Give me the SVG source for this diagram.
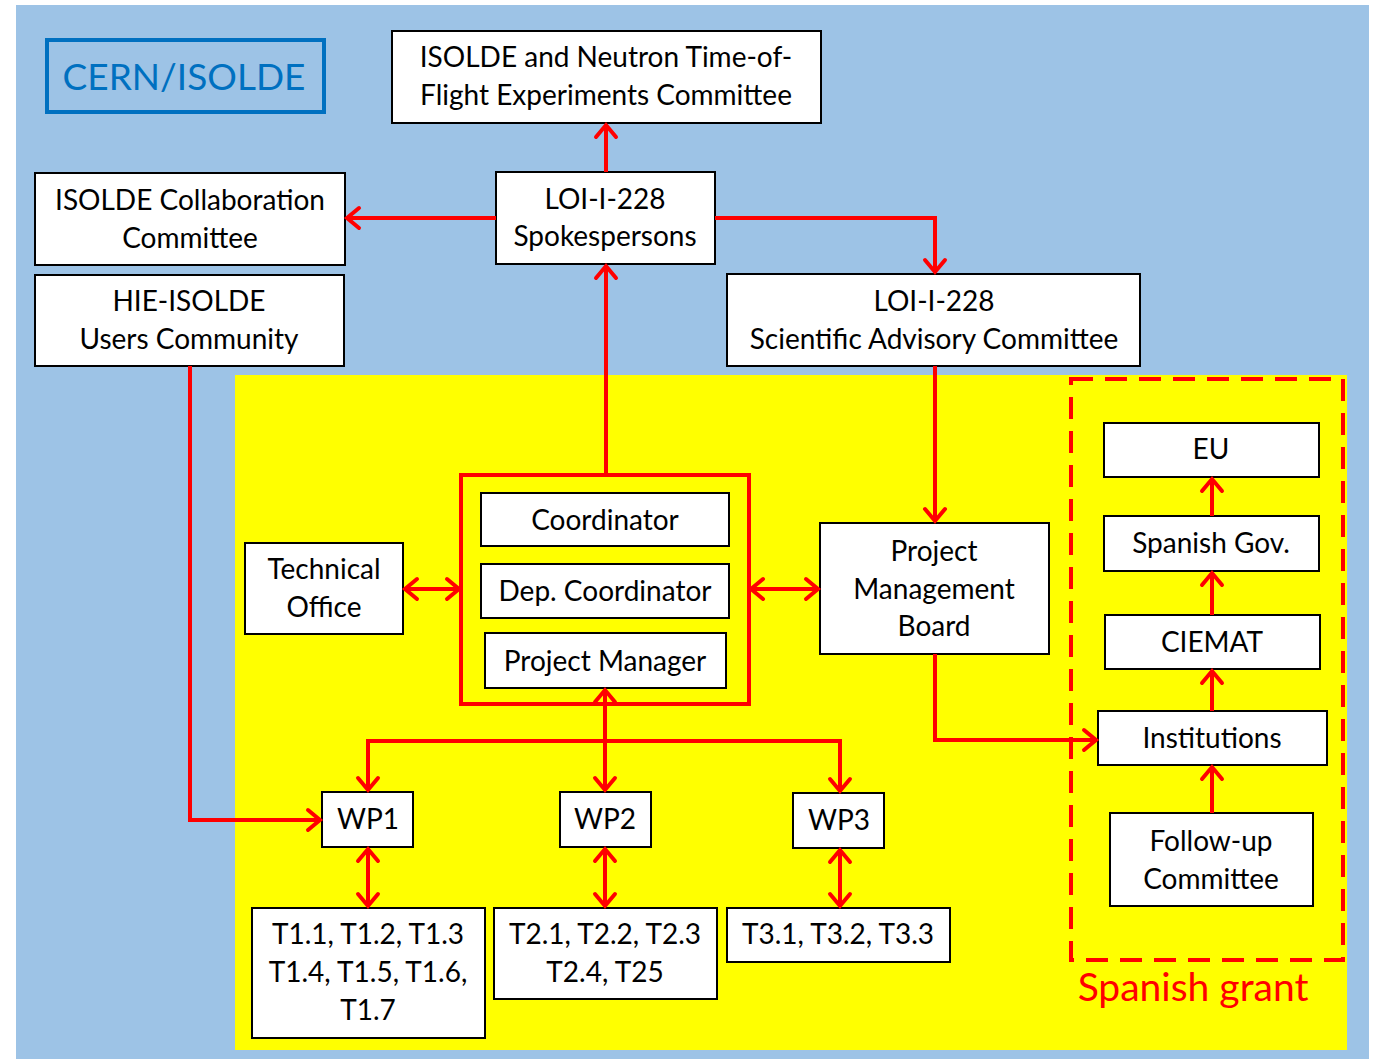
<svg xmlns="http://www.w3.org/2000/svg" width="1377" height="1059" viewBox="0 0 1377 1059">
<defs>
<style>
.box{fill:#fff;stroke:#000;stroke-width:2}
.t{font-family:Lato,"Open Sans","Liberation Sans",sans-serif;font-size:28px;fill:#000;text-anchor:middle}
.c{fill:none;stroke:#ff0000;stroke-width:4;stroke-linejoin:miter}
</style>
<marker id="ah" markerUnits="userSpaceOnUse" viewBox="0 0 16 24" markerWidth="16" markerHeight="24" refX="14" refY="12" orient="auto-start-reverse" overflow="visible">
<path d="M2,2 L14,12 L2,22" fill="none" stroke="#ff0000" stroke-width="4" stroke-linecap="round" stroke-linejoin="miter"/>
</marker>
</defs>
<rect x="16" y="5" width="1353" height="1054" fill="#9dc3e6"/>
<rect x="235" y="375" width="1112" height="675" fill="#ffff00"/>

<g id="cern">
<rect x="47" y="40" width="277" height="72" fill="none" stroke="#0070c0" stroke-width="4"/>
<text x="184" y="90" class="t" style="font-size:37px;fill:#0070c0">CERN/ISOLDE</text>
</g>

<g id="neutron">
<rect class="box" x="392" y="31" width="429" height="92"/>
<text class="t" x="606" y="67">ISOLDE and Neutron Time-of-</text>
<text class="t" x="606" y="105">Flight Experiments Committee</text>
</g>
<g id="spokespersons">
<rect class="box" x="496" y="172" width="219" height="92"/>
<text class="t" x="605" y="209">LOI-I-228</text>
<text class="t" x="605" y="246">Spokespersons</text>
</g>
<g id="collab">
<rect class="box" x="35" y="173" width="310" height="92"/>
<text class="t" x="190" y="210">ISOLDE Collaboration</text>
<text class="t" x="190" y="248">Committee</text>
</g>
<g id="hie">
<rect class="box" x="35" y="275" width="309" height="91"/>
<text class="t" x="189" y="311">HIE-ISOLDE</text>
<text class="t" x="189" y="349">Users Community</text>
</g>
<g id="sac">
<rect class="box" x="727" y="274" width="413" height="92"/>
<text class="t" x="934" y="311">LOI-I-228</text>
<text class="t" x="934" y="349">Scientific Advisory Committee</text>
</g>

<g id="grant">
<rect x="1071" y="379" width="272" height="581" fill="none" stroke="#ff0000" stroke-width="4" stroke-dasharray="22 12"/>
<text x="1193" y="1001" class="t" style="font-size:39px;fill:#ff0000">Spanish grant</text>
</g>
<g id="eu">
<rect class="box" x="1104" y="423" width="215" height="54"/>
<text class="t" x="1211" y="459">EU</text>
</g>
<g id="spgov">
<rect class="box" x="1104" y="516" width="215" height="55"/>
<text class="t" x="1211" y="553">Spanish Gov.</text>
</g>
<g id="ciemat">
<rect class="box" x="1105" y="615" width="215" height="54"/>
<text class="t" x="1212" y="652">CIEMAT</text>
</g>
<g id="institutions">
<rect class="box" x="1098" y="711" width="229" height="54"/>
<text class="t" x="1212" y="748">Institutions</text>
</g>
<g id="followup">
<rect class="box" x="1110" y="813" width="203" height="93"/>
<text class="t" x="1211" y="851">Follow-up</text>
<text class="t" x="1211" y="889">Committee</text>
</g>

<g id="management">
<rect x="461" y="475" width="288" height="229" fill="none" stroke="#ff0000" stroke-width="4"/>
</g>
<g id="coordinator">
<rect class="box" x="481" y="493" width="248" height="53"/>
<text class="t" x="605" y="530">Coordinator</text>
</g>
<g id="depcoord">
<rect class="box" x="481" y="564" width="248" height="54"/>
<text class="t" x="605" y="601">Dep. Coordinator</text>
</g>
<g id="pm">
<rect class="box" x="485" y="633" width="241" height="55"/>
<text class="t" x="605" y="671">Project Manager</text>
</g>
<g id="techoffice">
<rect class="box" x="245" y="543" width="158" height="91"/>
<text class="t" x="324" y="579">Technical</text>
<text class="t" x="324" y="617">Office</text>
</g>
<g id="pmb">
<rect class="box" x="820" y="523" width="229" height="131"/>
<text class="t" x="934" y="561">Project</text>
<text class="t" x="934" y="599">Management</text>
<text class="t" x="934" y="636">Board</text>
</g>

<g id="wp1">
<rect class="box" x="322" y="792" width="91" height="55"/>
<text class="t" x="368" y="829">WP1</text>
</g>
<g id="wp2">
<rect class="box" x="560" y="792" width="91" height="55"/>
<text class="t" x="605" y="829">WP2</text>
</g>
<g id="wp3">
<rect class="box" x="793" y="793" width="91" height="55"/>
<text class="t" x="839" y="830">WP3</text>
</g>
<g id="t1">
<rect class="box" x="252" y="908" width="233" height="130"/>
<text class="t" x="368" y="944">T1.1, T1.2, T1.3</text>
<text class="t" x="368" y="982">T1.4, T1.5, T1.6,</text>
<text class="t" x="368" y="1020">T1.7</text>
</g>
<g id="t2">
<rect class="box" x="494" y="908" width="223" height="91"/>
<text class="t" x="605" y="944">T2.1, T2.2, T2.3</text>
<text class="t" x="605" y="982">T2.4, T25</text>
</g>
<g id="t3">
<rect class="box" x="727" y="908" width="223" height="54"/>
<text class="t" x="838" y="944">T3.1, T3.2, T3.3</text>
</g>

<g id="connectors">
<path class="c" d="M606,172 V125" marker-end="url(#ah)"/>
<path class="c" d="M496,218 H347" marker-end="url(#ah)"/>
<path class="c" d="M715,218 H935 V272" marker-end="url(#ah)"/>
<path class="c" d="M606,475 V266" marker-end="url(#ah)"/>
<path class="c" d="M935,366 V521" marker-end="url(#ah)"/>
<path class="c" d="M935,654 V740 H1096" marker-end="url(#ah)"/>
<path class="c" d="M190,366 V820 H320" marker-end="url(#ah)"/>
<path class="c" d="M405,589 H459" marker-start="url(#ah)" marker-end="url(#ah)"/>
<path class="c" d="M751,589 H818" marker-start="url(#ah)" marker-end="url(#ah)"/>
<path class="c" d="M605,690 V790" marker-start="url(#ah)" marker-end="url(#ah)"/>
<path class="c" d="M368,790 V741 H840 V791" marker-start="url(#ah)" marker-end="url(#ah)"/>
<path class="c" d="M368,849 V906" marker-start="url(#ah)" marker-end="url(#ah)"/>
<path class="c" d="M605,849 V906" marker-start="url(#ah)" marker-end="url(#ah)"/>
<path class="c" d="M840,850 V906" marker-start="url(#ah)" marker-end="url(#ah)"/>
<path class="c" d="M1212,813 V767" marker-end="url(#ah)"/>
<path class="c" d="M1212,711 V671" marker-end="url(#ah)"/>
<path class="c" d="M1212,615 V573" marker-end="url(#ah)"/>
<path class="c" d="M1212,516 V479" marker-end="url(#ah)"/>
</g>
</svg>
